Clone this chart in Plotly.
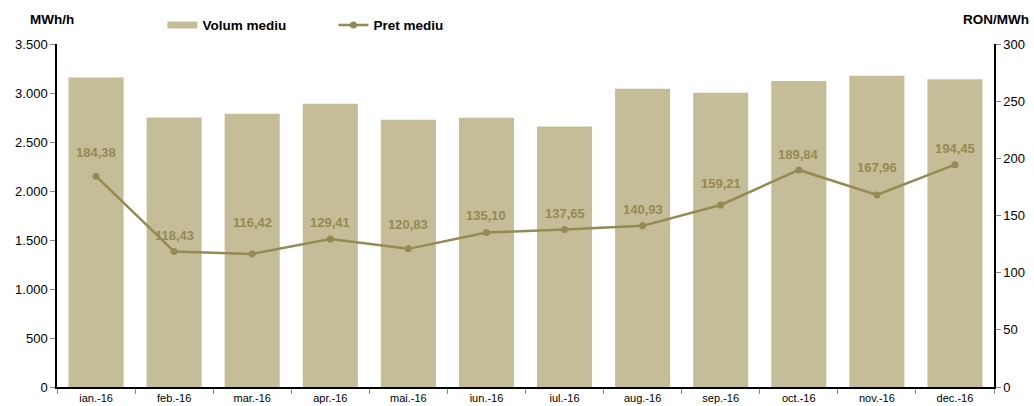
import plotly.graph_objects as go

months = ["ian.-16", "feb.-16", "mar.-16", "apr.-16", "mai.-16", "iun.-16",
          "iul.-16", "aug.-16", "sep.-16", "oct.-16", "nov.-16", "dec.-16"]
volum_mediu = [3159, 2751, 2789, 2891, 2728, 2748, 2659, 3044, 3003, 3122, 3176, 3140]
pret_mediu = [184.38, 118.43, 116.42, 129.41, 120.83, 135.10, 137.65, 140.93, 159.21, 189.84, 167.96, 194.45]
label_shift = [24, 16, 31, 17, 24, 17, 16, 16, 21, 15, 27, 16]

BAR = "#C4BD97"
LINE = "#948A54"
FONT = "Liberation Sans, Arial, sans-serif"

fig = go.Figure()
fig.add_trace(go.Bar(x=months, y=volum_mediu, name="Volum mediu", showlegend=False,
                     marker=dict(color=BAR, line=dict(width=0))))
# legend entry with a wide flat swatch, like the reference
fig.add_trace(go.Scatter(x=[None], y=[None], mode="lines", name="Volum mediu",
                         line=dict(color=BAR, width=7), hoverinfo="skip"))
fig.add_trace(go.Scatter(x=months, y=pret_mediu, name="Pret mediu", yaxis="y2",
                         mode="lines+markers",
                         line=dict(color=LINE, width=2.5),
                         marker=dict(color=LINE, size=7)))

for m, v, s in zip(months, pret_mediu, label_shift):
    fig.add_annotation(x=m, y=v, xref="x", yref="y2", yshift=s, showarrow=False,
                       text=f"{v:.2f}".replace(".", ","),
                       font=dict(family=FONT, size=13, color=LINE, weight="bold"))

fig.add_annotation(x=0.0, y=1, xref="paper", yref="paper", xanchor="center", yanchor="bottom",
                   xshift=-5, yshift=15, text="<b>MWh/h</b>", showarrow=False,
                   font=dict(family=FONT, size=13.5, color="black"))
fig.add_annotation(x=1.0, y=1, xref="paper", yref="paper", xanchor="right", yanchor="bottom",
                   xshift=37, yshift=15, text="<b>RON/MWh</b>", showarrow=False,
                   font=dict(family=FONT, size=13.5, color="black"))

fig.update_layout(
    width=1034, height=406,
    margin=dict(l=57, r=40, t=44, b=19, pad=0, autoexpand=False),
    plot_bgcolor="white", paper_bgcolor="white",
    separators=",.",
    bargap=0.295,
    font=dict(family=FONT, size=13, color="black"),
    showlegend=True,
    legend=dict(orientation="h", x=0.1125, y=1.055, xanchor="left", yanchor="middle",
                font=dict(family=FONT, size=13.5, color="black", weight="bold"),
                traceorder="normal", entrywidth=126, entrywidthmode="pixels",
                bgcolor="rgba(0,0,0,0)"),
    xaxis=dict(range=[-0.5, len(months) - 0.5], autorange=False,
               showline=True, linecolor="black", linewidth=1.5, ticks="outside",
               tickson="boundaries", ticklen=5, tickcolor="#888", showgrid=False,
               tickfont=dict(size=11), mirror=False, automargin=False),
    yaxis=dict(range=[0, 3500], dtick=500, tickformat=",d", showline=True,
               linecolor="black", linewidth=1.5, ticks="outside", ticklen=5,
               tickcolor="#888", showgrid=False, zeroline=False,
               tickfont=dict(size=13), automargin=False),
    yaxis2=dict(range=[0, 300], dtick=50, overlaying="y", side="right",
                showline=True, linecolor="black", linewidth=1.5, ticks="outside",
                ticklen=5, tickcolor="#888", showgrid=False, zeroline=False,
                tickfont=dict(size=13), automargin=False),
)

fig.write_html("out.html", config={"displayModeBar": False},
               post_script="document.body.style.margin='0';document.body.style.overflow='hidden';")
